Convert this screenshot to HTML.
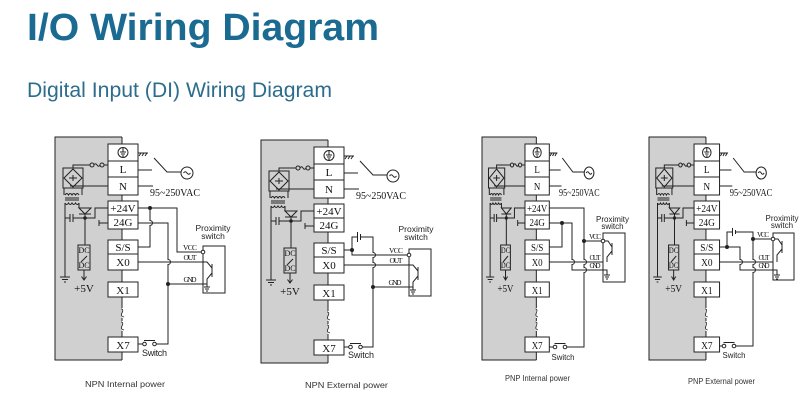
<!DOCTYPE html>
<html><head><meta charset="utf-8"><style>
html,body{margin:0;padding:0;background:#fff;}
svg{display:block;}
.w path,.w rect,.w circle{vector-effect:non-scaling-stroke;}
</style></head><body>
<svg width="811" height="409" viewBox="0 0 811 409" xmlns="http://www.w3.org/2000/svg">
<rect x="0" y="0" width="811" height="409" fill="#fff"/>
<text x="27" y="40" font-family="Liberation Sans, Arial, sans-serif" font-weight="bold" font-size="38" fill="#1b6a92" textLength="352" lengthAdjust="spacingAndGlyphs">I/O Wiring Diagram</text>
<text x="27" y="97" font-family="Liberation Sans, Arial, sans-serif" font-size="21" fill="#2c6d8d" textLength="305" lengthAdjust="spacingAndGlyphs">Digital Input (DI) Wiring Diagram</text>

<!-- ============ DIAGRAM 1 ============ -->
<g class="w" stroke="#222" stroke-width="1" fill="none">
<g>
<path d="M122,137H55V360H122" fill="#d0d0d0"/>
<path d="M122,137V144M122,195V201M122,229V240M122,270V282M122,297V308M122,318V321M122,331V337M122,352V360"/>
<path d="M121,309q3,0 1,4q-2,3 2,4M121,322q3,0 1,4q-2,3 2,4" stroke-width="0.8"/>
<g fill="#fff"><rect x="108" y="144" width="30" height="51"/><rect x="108" y="201" width="30" height="28"/><rect x="108" y="240" width="30" height="30"/><rect x="108" y="282" width="30" height="15"/><rect x="108" y="337" width="30" height="15"/></g>
<path d="M108,161H138M108,177H138M108,215H138M108,254H138"/>
<circle cx="123" cy="152.5" r="5"/><path d="M123,148V152M120,152H126M121,154H125M122,156H124"/>
<rect x="63" y="168" width="20" height="20"/><path d="M73,169L82,178L73,187L64,178Z"/><path d="M69,178H77M73,175V181"/>
<path d="M73,168V165H90"/><circle cx="92" cy="165" r="2"/><path d="M94,165q1.5,-2.5 3,0q1.5,2.5 3,0"/><circle cx="102" cy="165" r="2"/><path d="M104,165H108"/>
<path d="M70,186H108M64,188V195M82,188V195"/>
<path d="M65,195q1.75,-3 3.5,0q1.75,-3 3.5,0q1.75,-3 3.5,0q1.75,-3 3.5,0"/><path d="M65,198H79M65,200H79"/><path d="M65,203q1.75,3 3.5,0q1.75,3 3.5,0q1.75,3 3.5,0q1.75,3 3.5,0"/>
<path d="M65,203V277M60,277H70M62,279.5H68M64,282H66"/>
<path d="M79,203V208"/><path d="M79,208H91L85,214Z"/><path d="M79,214H91M85,214V245"/>
<circle cx="85" cy="218" r="1.3" fill="#222"/>
<path d="M65,218H70M70,214V222M73,214V222M73,218H85M85,218H95V208H108"/>
<path d="M99,220V226M99,223H108"/>
<rect x="78" y="245" width="12" height="25"/><path d="M81,262L87,256"/>
<path d="M84,270V280M81.5,276.5L84,280L86.5,276.5"/>
<path d="M138,153H148M141,153l-2,3M144,153l-2,3M147,153l-2,3"/>
<path d="M138,170H152M154,158L167,172H181"/><circle cx="187" cy="173" r="6"/><path d="M183.5,173q1.75,-2.5 3.5,0q1.75,2.5 3.5,0"/>
<path d="M138,186H153"/>
<g font-family="Liberation Serif, serif" font-size="11" text-anchor="middle" fill="#111" stroke="none">
<text x="123" y="173">L</text><text x="123" y="190">N</text><text x="123" y="212">+24V</text><text x="123" y="226">24G</text><text x="123" y="251">S/S</text><text x="123" y="266">X0</text><text x="123" y="294">X1</text><text x="123" y="349">X7</text><text x="84" y="292">+5V</text>
<text x="175" y="196" font-size="10" textLength="50" lengthAdjust="spacingAndGlyphs">95~250VAC</text>
<text x="84" y="253" font-size="8">DC</text><text x="84" y="268" font-size="8">DC</text>
</g>
</g>
<path d="M138,208H177V252H201.5"/>
<circle cx="150" cy="208" r="1.5" fill="#222"/>
<path d="M150,208V220.5a2.5,2.5 0 0 1 0,5V247H138"/>
<path d="M138,223H168V259.5a2.5,2.5 0 0 1 0,5V344H156.3"/>
<path d="M138,262H203"/>
<circle cx="168" cy="284" r="1.5" fill="#222"/>
<path d="M168,284H207"/>
<rect x="203" y="246" width="22" height="47"/>
<circle cx="203" cy="252" r="1.8" fill="#fff"/>
<path d="M203,262H207L212,268M212,264V277M212,273L207,279V287M204,287H210M205,289H209M206,291H208"/>
<path d="M138,344H142.7M144,340.5H155"/>
<circle cx="144.5" cy="344" r="1.8" fill="#fff"/><circle cx="154.5" cy="344" r="1.8" fill="#fff"/>
<g font-family="Liberation Serif, serif" font-size="7.5" text-anchor="middle" fill="#111" stroke="none">
<text x="190" y="250" textLength="14">VCC</text><text x="190" y="260" textLength="13">OUT</text><text x="190" y="282" textLength="13">GND</text>
</g>
<g font-family="Liberation Sans, Arial, sans-serif" font-size="8.5" fill="#222" stroke="none" text-anchor="middle">
<text x="213" y="231">Proximity</text><text x="213" y="239">switch</text><text x="154.5" y="356" font-size="9" textLength="25">Switch</text>
</g>
</g>

<!-- ============ DIAGRAM 2 ============ -->
<g class="w" stroke="#222" stroke-width="1" fill="none" transform="translate(206,3)">
<g>
<path d="M122,137H55V360H122" fill="#d0d0d0"/>
<path d="M122,137V144M122,195V201M122,229V240M122,270V282M122,297V308M122,318V321M122,331V337M122,352V360"/>
<path d="M121,309q3,0 1,4q-2,3 2,4M121,322q3,0 1,4q-2,3 2,4" stroke-width="0.8"/>
<g fill="#fff"><rect x="108" y="144" width="30" height="51"/><rect x="108" y="201" width="30" height="28"/><rect x="108" y="240" width="30" height="30"/><rect x="108" y="282" width="30" height="15"/><rect x="108" y="337" width="30" height="15"/></g>
<path d="M108,161H138M108,177H138M108,215H138M108,254H138"/>
<circle cx="123" cy="152.5" r="5"/><path d="M123,148V152M120,152H126M121,154H125M122,156H124"/>
<rect x="63" y="168" width="20" height="20"/><path d="M73,169L82,178L73,187L64,178Z"/><path d="M69,178H77M73,175V181"/>
<path d="M73,168V165H90"/><circle cx="92" cy="165" r="2"/><path d="M94,165q1.5,-2.5 3,0q1.5,2.5 3,0"/><circle cx="102" cy="165" r="2"/><path d="M104,165H108"/>
<path d="M70,186H108M64,188V195M82,188V195"/>
<path d="M65,195q1.75,-3 3.5,0q1.75,-3 3.5,0q1.75,-3 3.5,0q1.75,-3 3.5,0"/><path d="M65,198H79M65,200H79"/><path d="M65,203q1.75,3 3.5,0q1.75,3 3.5,0q1.75,3 3.5,0q1.75,3 3.5,0"/>
<path d="M65,203V277M60,277H70M62,279.5H68M64,282H66"/>
<path d="M79,203V208"/><path d="M79,208H91L85,214Z"/><path d="M79,214H91M85,214V245"/>
<circle cx="85" cy="218" r="1.3" fill="#222"/>
<path d="M65,218H70M70,214V222M73,214V222M73,218H85M85,218H95V208H108"/>
<path d="M99,220V226M99,223H108"/>
<rect x="78" y="245" width="12" height="25"/><path d="M81,262L87,256"/>
<path d="M84,270V280M81.5,276.5L84,280L86.5,276.5"/>
<path d="M138,153H148M141,153l-2,3M144,153l-2,3M147,153l-2,3"/>
<path d="M138,170H152M154,158L167,172H181"/><circle cx="187" cy="173" r="6"/><path d="M183.5,173q1.75,-2.5 3.5,0q1.75,2.5 3.5,0"/>
<path d="M138,186H153"/>
<g font-family="Liberation Serif, serif" font-size="11" text-anchor="middle" fill="#111" stroke="none">
<text x="123" y="173">L</text><text x="123" y="190">N</text><text x="123" y="212">+24V</text><text x="123" y="226">24G</text><text x="123" y="251">S/S</text><text x="123" y="266">X0</text><text x="123" y="294">X1</text><text x="123" y="349">X7</text><text x="84" y="292">+5V</text>
<text x="175" y="196" font-size="10" textLength="50" lengthAdjust="spacingAndGlyphs">95~250VAC</text>
<text x="84" y="253" font-size="8">DC</text><text x="84" y="268" font-size="8">DC</text>
</g>
</g>
<path d="M138,247H146V252H201.5"/>
<circle cx="146" cy="247" r="1.5" fill="#222"/>
<path d="M146,247V234H151.5M151.5,229V239M154.5,231V237M154.5,234H167V249.5a2.5,2.5 0 0 1 0,5V259.5a2.5,2.5 0 0 1 0,5V344H156.3"/>
<path d="M138,262H203"/>
<circle cx="167" cy="284" r="1.5" fill="#222"/>
<path d="M167,284H207"/>
<rect x="203" y="246" width="22" height="47"/>
<circle cx="203" cy="252" r="1.8" fill="#fff"/>
<path d="M203,262H207L212,268M212,264V277M212,273L207,279V287M204,287H210M205,289H209M206,291H208"/>
<path d="M138,344H142.7M144,340.5H155"/>
<circle cx="144.5" cy="344" r="1.8" fill="#fff"/><circle cx="154.5" cy="344" r="1.8" fill="#fff"/>
<g font-family="Liberation Serif, serif" font-size="7.5" text-anchor="middle" fill="#111" stroke="none">
<text x="190" y="250" textLength="14">VCC</text><text x="190" y="260" textLength="13">OUT</text><text x="189" y="282" textLength="13">GND</text>
</g>
<g font-family="Liberation Sans, Arial, sans-serif" font-size="8.5" fill="#222" stroke="none" text-anchor="middle">
<text x="210" y="229">Proximity</text><text x="210" y="237">switch</text><text x="155" y="355" font-size="9" textLength="26">Switch</text>
</g>
</g>

<!-- ============ DIAGRAM 3 ============ -->
<g class="w" stroke="#222" stroke-width="1" fill="none">
<g transform="translate(482,0) scale(0.811,1) translate(-55,0)">
<path d="M122,137H55V360H122" fill="#d0d0d0"/>
<path d="M122,137V144M122,195V201M122,229V240M122,270V282M122,297V308M122,318V321M122,331V337M122,352V360"/>
<path d="M121,309q3,0 1,4q-2,3 2,4M121,322q3,0 1,4q-2,3 2,4" stroke-width="0.8"/>
<g fill="#fff"><rect x="108" y="144" width="30" height="51"/><rect x="108" y="201" width="30" height="28"/><rect x="108" y="240" width="30" height="30"/><rect x="108" y="282" width="30" height="15"/><rect x="108" y="337" width="30" height="15"/></g>
<path d="M108,161H138M108,177H138M108,215H138M108,254H138"/>
<circle cx="123" cy="152.5" r="5"/><path d="M123,148V152M120,152H126M121,154H125M122,156H124"/>
<rect x="63" y="168" width="20" height="20"/><path d="M73,169L82,178L73,187L64,178Z"/><path d="M69,178H77M73,175V181"/>
<path d="M73,168V165H90"/><circle cx="92" cy="165" r="2"/><path d="M94,165q1.5,-2.5 3,0q1.5,2.5 3,0"/><circle cx="102" cy="165" r="2"/><path d="M104,165H108"/>
<path d="M70,186H108M64,188V195M82,188V195"/>
<path d="M65,195q1.75,-3 3.5,0q1.75,-3 3.5,0q1.75,-3 3.5,0q1.75,-3 3.5,0"/><path d="M65,198H79M65,200H79"/><path d="M65,203q1.75,3 3.5,0q1.75,3 3.5,0q1.75,3 3.5,0q1.75,3 3.5,0"/>
<path d="M65,203V277M60,277H70M62,279.5H68M64,282H66"/>
<path d="M79,203V208"/><path d="M79,208H91L85,214Z"/><path d="M79,214H91M85,214V245"/>
<circle cx="85" cy="218" r="1.3" fill="#222"/>
<path d="M65,218H70M70,214V222M73,214V222M73,218H85M85,218H95V208H108"/>
<path d="M99,220V226M99,223H108"/>
<rect x="78" y="245" width="12" height="25"/><path d="M81,262L87,256"/>
<path d="M84,270V280M81.5,276.5L84,280L86.5,276.5"/>
<path d="M138,153H148M141,153l-2,3M144,153l-2,3M147,153l-2,3"/>
<path d="M138,170H152M154,158L167,172H181"/><circle cx="187" cy="173" r="6"/><path d="M183.5,173q1.75,-2.5 3.5,0q1.75,2.5 3.5,0"/>
<path d="M138,186H153"/>
<g font-family="Liberation Serif, serif" font-size="11" text-anchor="middle" fill="#111" stroke="none">
<text x="123" y="173">L</text><text x="123" y="190">N</text><text x="123" y="212">+24V</text><text x="123" y="226">24G</text><text x="123" y="251">S/S</text><text x="123" y="266">X0</text><text x="123" y="294">X1</text><text x="123" y="349">X7</text><text x="84" y="292">+5V</text>
<text x="175" y="196" font-size="10" textLength="50" lengthAdjust="spacingAndGlyphs">95~250VAC</text>
<text x="84" y="253" font-size="8">DC</text><text x="84" y="268" font-size="8">DC</text>
</g>
</g>
<path d="M549,208H584V259.5a2.5,2.5 0 0 1 0,5V267.5a2.5,2.5 0 0 1 0,5V347H566.8"/>
<circle cx="584" cy="241" r="1.5" fill="#222"/>
<path d="M584,241H601"/>
<path d="M549,223H572V259.5a2.5,2.5 0 0 1 0,5V270H607V275"/>
<circle cx="562" cy="223" r="1.5" fill="#222"/>
<path d="M562,223V247H549"/>
<path d="M549,262H603"/>
<rect x="603" y="233" width="22" height="49"/>
<circle cx="603" cy="241" r="1.8" fill="#fff"/>
<path d="M605,241H608L612,247M612,243V255M612,251L607,257V262"/>
<path d="M604,275H610M605,277H609M606,279H608"/>
<path d="M549,347H553.2M554.5,343.5H565.5"/>
<circle cx="555" cy="347" r="1.8" fill="#fff"/><circle cx="565" cy="347" r="1.8" fill="#fff"/>
<g font-family="Liberation Serif, serif" font-size="7" text-anchor="middle" fill="#111" stroke="none">
<text x="595" y="239" textLength="12">VCC</text><text x="595" y="260" textLength="11">OUT</text><text x="595" y="268" textLength="11">GND</text>
</g>
<g font-family="Liberation Sans, Arial, sans-serif" font-size="8" fill="#222" stroke="none" text-anchor="middle">
<text x="612.5" y="222">Proximity</text><text x="612.5" y="229">switch</text><text x="563" y="360" font-size="8" textLength="23" lengthAdjust="spacingAndGlyphs">Switch</text>
</g>
</g>

<!-- ============ DIAGRAM 4 ============ -->
<g class="w" stroke="#222" stroke-width="1" fill="none">
<g transform="translate(649,0) scale(0.85,1) translate(-55,0)">
<path d="M122,137H55V360H122" fill="#d0d0d0"/>
<path d="M122,137V144M122,195V201M122,229V240M122,270V282M122,297V308M122,318V321M122,331V337M122,352V360"/>
<path d="M121,309q3,0 1,4q-2,3 2,4M121,322q3,0 1,4q-2,3 2,4" stroke-width="0.8"/>
<g fill="#fff"><rect x="108" y="144" width="30" height="51"/><rect x="108" y="201" width="30" height="28"/><rect x="108" y="240" width="30" height="30"/><rect x="108" y="282" width="30" height="15"/><rect x="108" y="337" width="30" height="15"/></g>
<path d="M108,161H138M108,177H138M108,215H138M108,254H138"/>
<circle cx="123" cy="152.5" r="5"/><path d="M123,148V152M120,152H126M121,154H125M122,156H124"/>
<rect x="63" y="168" width="20" height="20"/><path d="M73,169L82,178L73,187L64,178Z"/><path d="M69,178H77M73,175V181"/>
<path d="M73,168V165H90"/><circle cx="92" cy="165" r="2"/><path d="M94,165q1.5,-2.5 3,0q1.5,2.5 3,0"/><circle cx="102" cy="165" r="2"/><path d="M104,165H108"/>
<path d="M70,186H108M64,188V195M82,188V195"/>
<path d="M65,195q1.75,-3 3.5,0q1.75,-3 3.5,0q1.75,-3 3.5,0q1.75,-3 3.5,0"/><path d="M65,198H79M65,200H79"/><path d="M65,203q1.75,3 3.5,0q1.75,3 3.5,0q1.75,3 3.5,0q1.75,3 3.5,0"/>
<path d="M65,203V277M60,277H70M62,279.5H68M64,282H66"/>
<path d="M79,203V208"/><path d="M79,208H91L85,214Z"/><path d="M79,214H91M85,214V245"/>
<circle cx="85" cy="218" r="1.3" fill="#222"/>
<path d="M65,218H70M70,214V222M73,214V222M73,218H85M85,218H95V208H108"/>
<path d="M99,220V226M99,223H108"/>
<rect x="78" y="245" width="12" height="25"/><path d="M81,262L87,256"/>
<path d="M84,270V280M81.5,276.5L84,280L86.5,276.5"/>
<path d="M138,153H148M141,153l-2,3M144,153l-2,3M147,153l-2,3"/>
<path d="M138,170H152M154,158L167,172H181"/><circle cx="187" cy="173" r="6"/><path d="M183.5,173q1.75,-2.5 3.5,0q1.75,2.5 3.5,0"/>
<path d="M138,186H153"/>
<g font-family="Liberation Serif, serif" font-size="11" text-anchor="middle" fill="#111" stroke="none">
<text x="123" y="173">L</text><text x="123" y="190">N</text><text x="123" y="212">+24V</text><text x="123" y="226">24G</text><text x="123" y="251">S/S</text><text x="123" y="266">X0</text><text x="123" y="294">X1</text><text x="123" y="349">X7</text><text x="84" y="292">+5V</text>
<text x="175" y="196" font-size="10" textLength="50" lengthAdjust="spacingAndGlyphs">95~250VAC</text>
<text x="84" y="253" font-size="8">DC</text><text x="84" y="268" font-size="8">DC</text>
</g>
</g>
<path d="M719,247H740V259.5a2.5,2.5 0 0 1 0,5V270H777V275"/>
<circle cx="727" cy="247" r="1.5" fill="#222"/>
<path d="M727,247V232H732.5M732.5,228V236M735.5,230V234M735.5,232H753V259.5a2.5,2.5 0 0 1 0,5V267.5a2.5,2.5 0 0 1 0,5V346H735.8"/>
<circle cx="753" cy="239" r="1.5" fill="#222"/>
<path d="M753,239H771"/>
<path d="M719,262H773"/>
<rect x="773" y="233" width="21" height="47"/>
<circle cx="773" cy="239" r="1.8" fill="#fff"/>
<path d="M775,239H778L782,245M782,241V253M782,249L777,255V262"/>
<path d="M774,275H780M775,277H779M776,279H778"/>
<path d="M719,346H722.2M723.5,342.5H734.5"/>
<circle cx="724" cy="346" r="1.8" fill="#fff"/><circle cx="734" cy="346" r="1.8" fill="#fff"/>
<g font-family="Liberation Serif, serif" font-size="7" text-anchor="middle" fill="#111" stroke="none">
<text x="763" y="237" textLength="12">VCC</text><text x="764" y="260" textLength="11">OUT</text><text x="764" y="268" textLength="11">GND</text>
</g>
<g font-family="Liberation Sans, Arial, sans-serif" font-size="8" fill="#222" stroke="none" text-anchor="middle">
<text x="782" y="221">Proximity</text><text x="782" y="228">switch</text><text x="734" y="358" font-size="8" textLength="23" lengthAdjust="spacingAndGlyphs">Switch</text>
</g>
</g>

<!-- captions -->
<g font-family="Liberation Sans, Arial, sans-serif" font-size="8.5" fill="#333">
<text x="85" y="387" textLength="80" lengthAdjust="spacingAndGlyphs">NPN  Internal power</text>
<text x="305" y="388" textLength="83" lengthAdjust="spacingAndGlyphs">NPN  External power</text>
<text x="505" y="381" textLength="65" lengthAdjust="spacingAndGlyphs">PNP Internal power</text>
<text x="688" y="384" textLength="67" lengthAdjust="spacingAndGlyphs">PNP External power</text>
</g>
</svg>
</body></html>
